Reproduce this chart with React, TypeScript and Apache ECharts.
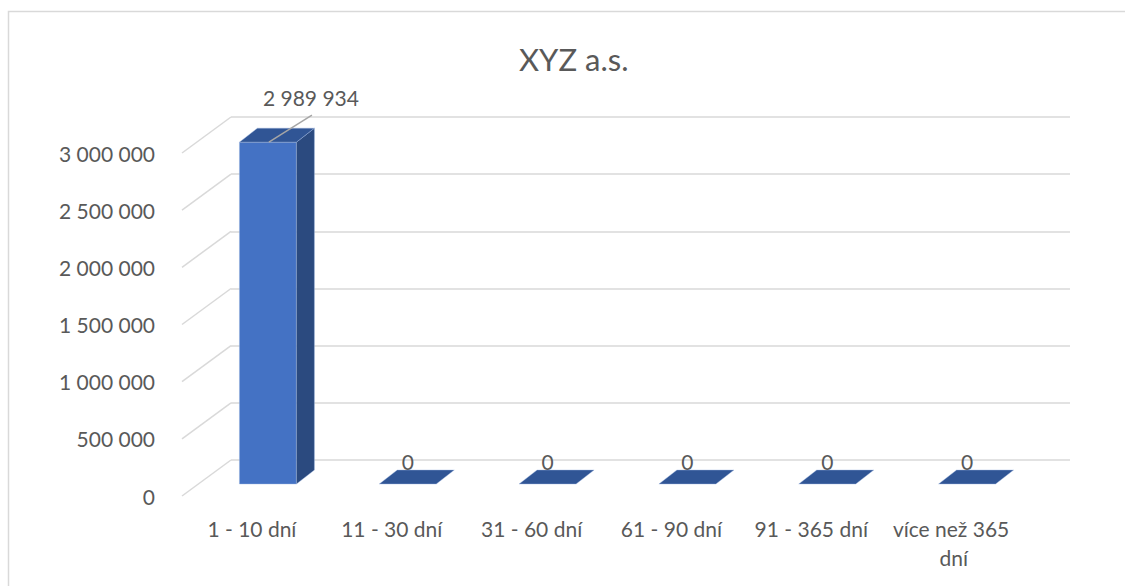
import React, { useEffect, useRef } from "react";
import * as echarts from "echarts";

const categories = ["1 - 10 dní", "11 - 30 dní", "31 - 60 dní", "61 - 90 dní", "91 - 365 dní", "více než 365 dní"];
const values = [2989934, 0, 0, 0, 0, 0];
const yTicks = [0, 500000, 1000000, 1500000, 2000000, 2500000, 3000000];
const titleText = "XYZ a.s.";

const FONT = "Lato";
const TEXT = "#595959";
const GRID = "#D9D9D9";

// 3D depth geometry (pixels)
const FLOOR_DX = 49;
const FLOOR_DY = 36;
const FACE_DX = 16;
const FACE_DY = 12;
const BAR_W = 57;
const SIDE_DX = 18;
const SIDE_DY = 14;

const fmt = (v: number) => String(Math.round(v)).replace(/\B(?=(\d{3})+(?!\d))/g, " ");

export default function App() {
  const ref = useRef<HTMLDivElement>(null);
  useEffect(() => {
    if (!ref.current) return;
    const chart = echarts.init(ref.current, null, { renderer: "svg" });
    const option: any = {
      animation: false,
      backgroundColor: "#ffffff",
      textStyle: { fontFamily: FONT },
      title: {
        text: titleText,
        left: 514,
        top: 38,
        textStyle: { fontFamily: FONT, fontSize: 31, fontWeight: "normal", color: TEXT },
      },
      graphic: [
        {
          type: "rect",
          shape: { x: 8.5, y: 11.5, width: 1300, height: 800 },
          style: { fill: "none", stroke: GRID, lineWidth: 1.5 },
          silent: true,
          z: -1,
        },
      ],
      grid: [
        { left: 231, right: 55, top: 117, bottom: 126 },
        { left: 231 - FLOOR_DX, right: 55 + FLOOR_DX, top: 117 + FLOOR_DY, bottom: 126 - FLOOR_DY },
      ],
      xAxis: [
        { type: "category", gridIndex: 0, data: categories, show: false },
        {
          type: "category",
          gridIndex: 1,
          data: categories,
          axisLine: { show: false },
          axisTick: { show: false },
          axisLabel: {
            interval: 0,
            margin: 18,
            fontFamily: FONT,
            fontSize: 21,
            color: TEXT,
            lineHeight: 29,
            width: 146,
            overflow: "break",
          },
        },
      ],
      yAxis: [
        {
          type: "value",
          gridIndex: 0,
          min: 0,
          max: 3000000,
          interval: 500000,
          axisLabel: { show: false },
          axisLine: { show: false },
          axisTick: { show: false },
          splitLine: { show: true, lineStyle: { color: GRID, width: 1.5 } },
        },
        {
          type: "value",
          gridIndex: 1,
          min: 0,
          max: 3000000,
          interval: 500000,
          axisLine: { show: false },
          axisTick: { show: false },
          splitLine: { show: false },
          axisLabel: {
            margin: 27,
            fontFamily: FONT,
            fontSize: 21,
            color: TEXT,
            formatter: (v: number) => fmt(v),
          },
        },
      ],
      series: [
        {
          type: "custom",
          xAxisIndex: 0,
          yAxisIndex: 0,
          clip: false,
          silent: true,
          data: yTicks.map((t) => [0, t]),
          renderItem: (params: any, api: any) => {
            const p = api.coord([0, api.value(1)]);
            const x0 = params.coordSys.x;
            return {
              type: "line",
              shape: { x1: x0, y1: p[1], x2: x0 - FLOOR_DX, y2: p[1] + FLOOR_DY },
              style: { stroke: GRID, lineWidth: 1.5 },
            };
          },
        },
        {
          type: "custom",
          xAxisIndex: 1,
          yAxisIndex: 1,
          clip: false,
          silent: true,
          data: values.map((v, i) => [i, v]),
          renderItem: (params: any, api: any) => {
            const i = api.value(0);
            const v = api.value(1);
            const base = api.coord([i, 0]);
            const top = api.coord([i, v]);
            const x0 = base[0] + FACE_DX - BAR_W / 2;
            const x1 = x0 + BAR_W;
            const yb = base[1] - FACE_DY;
            const yt = top[1] - FACE_DY;
            const edge = "rgba(160,185,225,0.7)";
            const children: any[] = [];
            if (yb - yt > 0.5) {
              children.push({
                type: "rect",
                shape: { x: x0, y: yt, width: BAR_W, height: yb - yt },
                style: { fill: "#4472C4", stroke: edge, lineWidth: 0.6 },
              });
              children.push({
                type: "polygon",
                shape: {
                  points: [
                    [x1, yb],
                    [x1 + SIDE_DX, yb - SIDE_DY],
                    [x1 + SIDE_DX, yt - SIDE_DY],
                    [x1, yt],
                  ],
                },
                style: { fill: "#2B4A7F", stroke: edge, lineWidth: 0.6 },
              });
            }
            children.push({
              type: "polygon",
              shape: {
                points: [
                  [x0, yt],
                  [x1, yt],
                  [x1 + SIDE_DX, yt - SIDE_DY],
                  [x0 + SIDE_DX, yt - SIDE_DY],
                ],
              },
              style: { fill: "#305595", stroke: edge, lineWidth: 0.6 },
            });
            const cx = (x0 + x1) / 2;
            if (v > 0) {
              children.push({
                type: "line",
                shape: { x1: cx + 1, y1: yt, x2: cx + 44, y2: yt - 27 },
                style: { stroke: "#A6A6A6", lineWidth: 1.5 },
              });
              children.push({
                type: "text",
                style: {
                  text: fmt(v),
                  x: cx + 43,
                  y: yt - 45,
                  align: "center",
                  verticalAlign: "middle",
                  fontFamily: FONT,
                  fontSize: 21,
                  fill: TEXT,
                },
              });
            } else {
              children.push({
                type: "text",
                style: {
                  text: fmt(v),
                  x: cx,
                  y: yt - 23,
                  align: "center",
                  verticalAlign: "middle",
                  fontFamily: FONT,
                  fontSize: 21,
                  fill: TEXT,
                },
              });
            }
            return { type: "group", children };
          },
        },
      ],
    };
    chart.setOption(option);
    return () => chart.dispose();
  }, []);
  return (
    <div
      ref={ref}
      style={{ position: "absolute", left: 0, top: 0, width: 1125, height: 586 }}
    />
  );
}
